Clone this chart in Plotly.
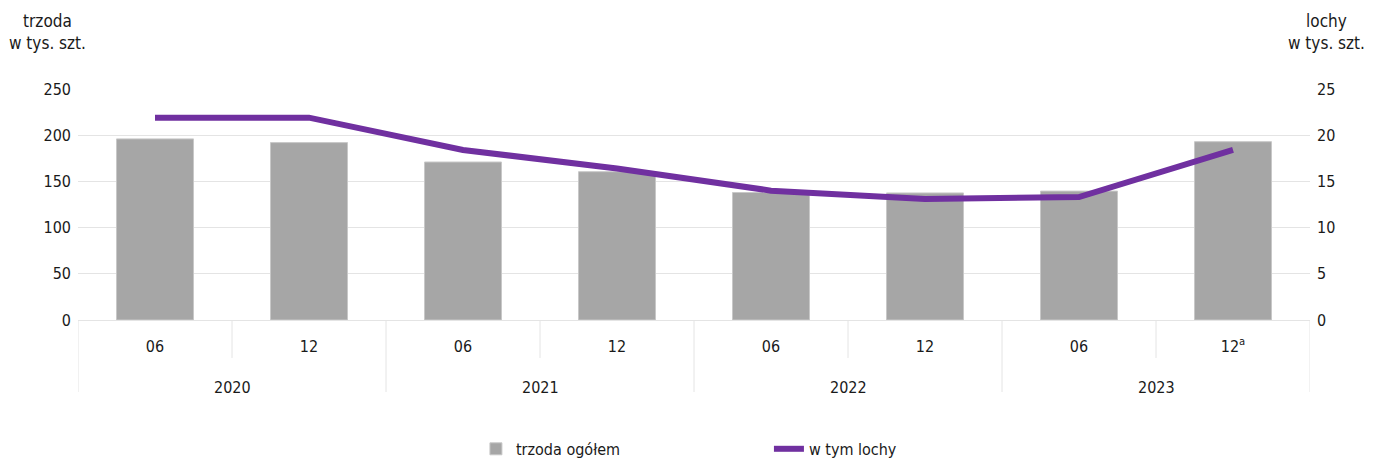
import plotly.graph_objects as go

years = ["2020", "2020", "2021", "2021", "2022", "2022", "2023", "2023"]
months = ["06", "12", "06", "12", "06", "12", "06", "12<sup>a</sup>"]
trzoda = [196, 192, 171, 160.5, 138, 137.5, 139.5, 193]
lochy = [21.9, 21.9, 18.4, 16.4, 14.0, 13.1, 13.3, 18.4]
year_labels = ["2020", "2021", "2022", "2023"]

FONT = "Liberation Sans Narrow, DejaVu Sans Condensed, Roboto, sans-serif"
GRID = "#e4e4e4"
TXT = "#1a1a1a"

cats = [f"{y}-{i}" for i, y in enumerate(years)]

fig = go.Figure()
fig.add_trace(go.Bar(
    x=cats, y=trzoda, name="trzoda ogółem",
    marker=dict(color="#a6a6a6", line=dict(color="#c8c8c8", width=1)),
    width=0.5, yaxis="y",
))
fig.add_trace(go.Scatter(
    x=cats, y=lochy, name="w tym lochy", mode="lines",
    line=dict(color="#7030a0", width=6), yaxis="y2",
))

shapes = []
for i in range(len(cats) - 1):
    long = years[i] != years[i + 1]
    shapes.append(dict(type="line", xref="x", yref="paper", x0=i + 0.5, x1=i + 0.5,
                       y0=0, y1=-0.312 if long else -0.1645,
                       line=dict(color=GRID, width=1)))
for xb in (-0.5, len(cats) - 0.5):
    shapes.append(dict(type="line", xref="x", yref="paper", x0=xb, x1=xb,
                       y0=0, y1=-0.312, line=dict(color=GRID, width=1)))

annotations = []
for k, yl in enumerate(year_labels):
    annotations.append(dict(text=yl, xref="x", yref="paper", x=2 * k + 0.5, y=-0.294,
                            xanchor="center", yanchor="middle", showarrow=False,
                            font=dict(size=16, color=TXT)))
annotations += [
    dict(text="trzoda<br>w tys. szt.", xref="paper", yref="paper", x=-0.025, y=1.247,
         xanchor="center", yanchor="middle", showarrow=False, align="center",
         font=dict(size=17, color=TXT)),
    dict(text="lochy<br>w tys. szt.", xref="paper", yref="paper", x=1.046, y=1.247,
         xanchor="right", yanchor="middle", showarrow=False, align="center",
         font=dict(size=17, color=TXT)),
]

fig.update_layout(
    width=1365, height=450,
    paper_bgcolor="white", plot_bgcolor="white",
    font=dict(family=FONT, size=16, color=TXT),
    margin=dict(l=70, r=63, t=81, b=138, autoexpand=False),
    showlegend=True,
    legend=dict(orientation="h", x=0.323, xanchor="left", y=-0.558, yanchor="middle",
                font=dict(size=16), entrywidth=248, traceorder="normal"),
    xaxis=dict(
        type="category", showgrid=False, showline=True, linecolor=GRID,
        ticks="", tickmode="array", tickvals=cats, ticktext=months,
        ticklabelstandoff=12, tickfont=dict(size=16), automargin=False,
        range=[-0.5, len(cats) - 0.5],
    ),
    yaxis=dict(range=[0, 250], dtick=50, showgrid=True, gridcolor=GRID,
               zeroline=False, ticks="", automargin=False, tickfont=dict(size=16),
               ticklabelstandoff=6),
    yaxis2=dict(range=[0, 25], dtick=5, overlaying="y", side="right",
                showgrid=False, zeroline=False, automargin=False,
                tickfont=dict(size=16), ticklabelstandoff=6),
    shapes=shapes,
    annotations=annotations,
)

fig.write_html("out.html")
